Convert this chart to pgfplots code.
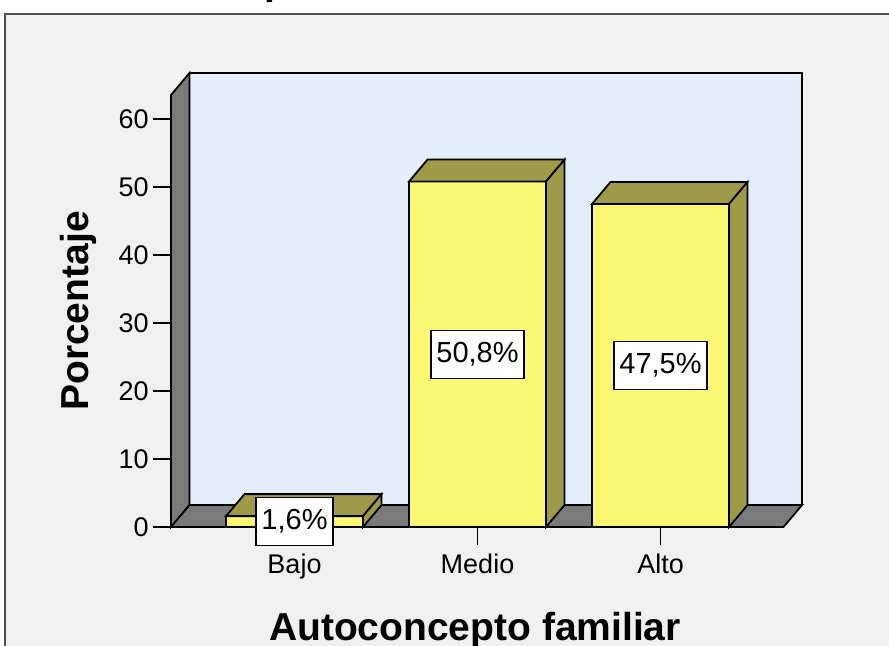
\documentclass[border=0pt]{standalone}
\usepackage{fontspec}
\setmainfont{Liberation Sans}
\usepackage{pgfplots}
\pgfplotsset{compat=1.18}
\definecolor{bgc}{HTML}{F0F0F0}
\definecolor{wallc}{HTML}{E3EEFA}
\definecolor{greyc}{HTML}{7A7A7A}
\definecolor{barf}{HTML}{FAF773}
\definecolor{bars}{HTML}{9E9A48}
\definecolor{framec}{HTML}{505050}
\begin{document}
\begin{tikzpicture}
\path[use as bounding box] (-85.5pt,-59pt) rectangle (359pt,263.5pt);
\clip (-85.5pt,-59pt) rectangle (359pt,263.5pt);
\fill[white] (-85.5pt,-59pt) rectangle (359pt,263.5pt);
\fill[bgc] (-83pt,-80pt) rectangle (400pt,256.5pt);
\draw[framec, line width=1pt] (-83pt,-80pt) -- (-83pt,256.5pt) -- (400pt,256.5pt);
\begin{axis}[
  at={(0,0)}, anchor=south west,
  scale only axis, width=306.25pt, height=216pt,
  xmin=-0.6749, xmax=2.6721, ymin=0, ymax=63.53,
  clip=false,
  axis x line*=bottom, axis y line*=left,
  axis line style={line width=0.9pt, black},
  xtick={0,1,2}, xticklabels={Bajo,Medio,Alto},
  ytick={0,10,...,60},
  tick align=outside, major tick length=9pt,
  tick style={line width=0.9pt, black},
  /pgf/number format/assume math mode=true,
  tick label style={font=\fontsize{13.5}{16}\selectfont},
  yticklabel style={inner xsep=2pt},
  xticklabel style={inner ysep=4.5pt},
  every axis x label/.style={at={(rel axis cs:0.4963,-0.2616)}, anchor=base, font=\fontsize{19.5}{23}\selectfont\bfseries},
  every axis y label/.style={at={(rel axis cs:-0.1355,0.5)}, anchor=base, rotate=90, font=\fontsize{19.5}{23}\selectfont\bfseries},
  xlabel={Autoconcepto familiar}, ylabel={Porcentaje},
  title={Autoconcepto familiar},
  every axis title/.style={at={(rel axis cs:0.16,1.2338)}, anchor=base, font=\fontsize{19.5}{23}\selectfont\bfseries},
  every node near coord/.style={fill=white, draw=black, line width=0.75pt, inner xsep=2.75pt, minimum height=24pt, anchor=center, font=\fontsize{14.5}{17}\selectfont, text=black},
]
% back wall
\addplot[fill=wallc, draw=black, line width=0.9pt] coordinates {(-0.5738,3.235) (2.7732,3.235) (2.7732,66.765) (-0.5738,66.765)} -- cycle;
% left wall
\addplot[fill=greyc, draw=black, line width=0.9pt] coordinates {(-0.6749,0) (-0.6749,63.53) (-0.5738,66.765) (-0.5738,3.235)} -- cycle;
% floor
\addplot[fill=greyc, draw=black, line width=0.9pt] coordinates {(-0.6749,0) (2.6721,0) (2.7732,3.235) (-0.5738,3.235)} -- cycle;
% Bajo 1.6
\addplot[fill=barf, draw=black, line width=0.9pt] coordinates {(-0.3743,0) (0.3743,0) (0.3743,1.6) (-0.3743,1.6)} -- cycle;
\addplot[fill=bars, draw=black, line width=0.9pt] coordinates {(-0.3743,1.6) (0.3743,1.6) (0.4754,4.835) (-0.2732,4.835)} -- cycle;
\addplot[fill=bars, draw=black, line width=0.9pt] coordinates {(0.3743,0) (0.4754,3.235) (0.4754,4.835) (0.3743,1.6)} -- cycle;
% Medio 50.8
\addplot[fill=barf, draw=black, line width=0.9pt] coordinates {(0.6257,0) (1.3743,0) (1.3743,50.8) (0.6257,50.8)} -- cycle;
\addplot[fill=bars, draw=black, line width=0.9pt] coordinates {(0.6257,50.8) (1.3743,50.8) (1.4754,54.035) (0.7268,54.035)} -- cycle;
\addplot[fill=bars, draw=black, line width=0.9pt] coordinates {(1.3743,0) (1.4754,3.235) (1.4754,54.035) (1.3743,50.8)} -- cycle;
% Alto 47.5
\addplot[fill=barf, draw=black, line width=0.9pt] coordinates {(1.6257,0) (2.3743,0) (2.3743,47.5) (1.6257,47.5)} -- cycle;
\addplot[fill=bars, draw=black, line width=0.9pt] coordinates {(1.6257,47.5) (2.3743,47.5) (2.4754,50.735) (1.7268,50.735)} -- cycle;
\addplot[fill=bars, draw=black, line width=0.9pt] coordinates {(2.3743,0) (2.4754,3.235) (2.4754,50.735) (2.3743,47.5)} -- cycle;
% value labels at half bar height
\addplot[draw=none, nodes near coords, point meta=explicit symbolic] coordinates {(0,0.8) [1,6\%] (1,25.4) [50,8\%] (2,23.75) [47,5\%]};
\end{axis}
\end{tikzpicture}
\end{document}
